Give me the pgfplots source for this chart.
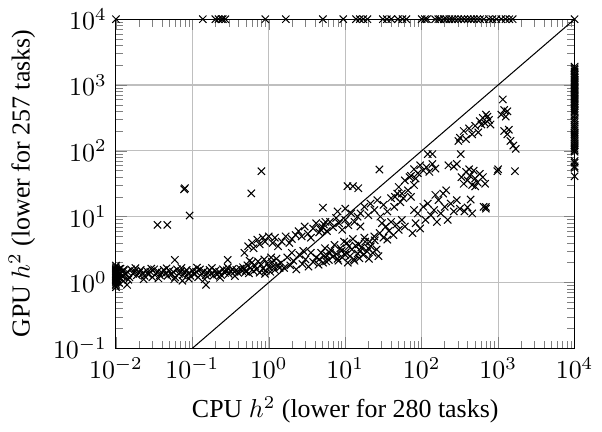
\documentclass[border=0pt]{standalone}
\usepackage{fontspec}
\setmainfont{Liberation Serif}
\usepackage{pgfplots}
\pgfplotsset{compat=1.18}

\begin{document}
\begin{tikzpicture}
\begin{axis}[
    scale only axis,
    width=177pt, height=127pt,
    xmode=log, ymode=log,
    xmin=1e-2, xmax=1e4,
    ymin=1e-1, ymax=1e4,
    grid=major,
    clip=false,
    xlabel={CPU $h^2$ (lower for 280 tasks)},
    ylabel={GPU $h^2$ (lower for 257 tasks)},
    pts/.style={only marks, mark=x, black, mark size=2pt},
]
% diagonal y = x
\addplot[black, no marks, line width=0.4pt] coordinates {(0.1,0.1) (10000,10000)};

% timeouts on the top edge
\addplot[pts] coordinates {
(0.01,10000) (0.137,10000) (0.2,10000) (0.22,10000) (0.24,10000) (0.25,10000) (0.27,10000)
(0.9,10000) (1.67,10000) (5.1,10000) (9.4,10000) (13.8,10000) (15.5,10000) (17.2,10000)
(19.5,10000) (31,10000) (35,10000) (40,10000) (49,10000) (56,10000) (63,10000) (100,10000)
(110,10000) (117,10000) (150,10000) (165,10000) (174,10000) (195,10000) (210,10000)
(230,10000) (250,10000) (270,10000) (300,10000) (330,10000) (360,10000) (400,10000)
(440,10000) (480,10000) (530,10000) (580,10000) (650,10000) (760,10000) (840,10000)
(950,10000) (1100,10000) (1250,10000) (1400,10000) (1550,10000) (10000,10000)
};

% timeouts on the right edge
\addplot[pts] coordinates {
(10000,1900) (10000,1800) (10000,1700) (10000,1600) (10000,1500) (10000,1420) (10000,1350)
(10000,1280) (10000,1200) (10000,1150) (10000,1100) (10000,1050) (10000,1000) (10000,950)
(10000,900) (10000,860) (10000,820) (10000,780) (10000,740) (10000,700) (10000,660)
(10000,630) (10000,600) (10000,570) (10000,540) (10000,510) (10000,480) (10000,450)
(10000,420) (10000,400) (10000,380) (10000,350) (10000,310) (10000,290) (10000,270)
(10000,250) (10000,235) (10000,220) (10000,205) (10000,190) (10000,180) (10000,170)
(10000,160) (10000,150) (10000,140) (10000,130) (10000,122) (10000,115) (10000,108)
(10000,102) (10000,97) (10000,70) (10000,66) (10000,58) (10000,55) (10000,41)
};

% left edge stack
\addplot[pts] coordinates {
(0.01,0.85) (0.01,0.9) (0.01,0.95) (0.01,1.0) (0.01,1.04) (0.01,1.08) (0.01,1.12)
(0.01,1.16) (0.01,1.2) (0.01,1.24) (0.01,1.28) (0.01,1.32) (0.01,1.36) (0.01,1.4)
(0.01,1.45) (0.01,1.5) (0.01,1.56) (0.01,1.62) (0.01,1.7) (0.01,1.8)
(0.0105,1.1) (0.0105,1.3) (0.0105,1.5) (0.0105,1.22) (0.0105,1.42)
(0.011,1.18) (0.011,1.35) (0.011,0.98) (0.011,1.6)
(0.0125,1.25) (0.0125,1.55) (0.0125,1.05)
};

% flat band for small CPU values
\addplot[pts] coordinates {
(0.0112,1.38) (0.0119,1.26) (0.0126,1.51) (0.0133,1.32) (0.0141,1.45) (0.0150,1.20)
(0.0158,1.58) (0.0168,1.35) (0.0178,1.48) (0.0188,1.29) (0.0200,1.41) (0.0211,1.55)
(0.0224,1.38) (0.0237,1.26) (0.0251,1.51) (0.0266,1.32) (0.0282,1.45) (0.0299,1.20)
(0.0316,1.58) (0.0335,1.35) (0.0355,1.48) (0.0376,1.29) (0.0398,1.41) (0.0422,1.55)
(0.0447,1.38) (0.0473,1.26) (0.0501,1.51) (0.0531,1.32) (0.0562,1.45) (0.0596,1.20)
(0.0631,1.58) (0.0668,1.35) (0.0708,1.48) (0.0750,1.29) (0.0794,1.41) (0.0841,1.55)
(0.0891,1.38) (0.0944,1.26) (0.100,1.51) (0.106,1.32) (0.112,1.45) (0.119,1.20)
(0.126,1.58) (0.133,1.35) (0.141,1.48) (0.150,1.29) (0.158,1.41) (0.168,1.55)
(0.178,1.38) (0.188,1.26) (0.200,1.51) (0.211,1.32) (0.224,1.45) (0.237,1.30)
(0.251,1.58) (0.266,1.40) (0.282,1.52) (0.299,1.35) (0.316,1.48) (0.335,1.60)
(0.355,1.45) (0.376,1.55) (0.398,1.40) (0.422,1.62) (0.447,1.50) (0.473,1.58) (0.501,1.45)
(0.0115,1.62) (0.0145,1.10) (0.018,1.65) (0.023,1.12) (0.029,1.62) (0.036,1.15)
(0.046,1.64) (0.058,1.12) (0.072,1.66) (0.09,1.14) (0.115,1.68) (0.145,1.12)
(0.18,1.66) (0.23,1.18) (0.29,1.68) (0.36,1.25) (0.46,1.70)
(0.014,0.92) (0.074,1.06) (0.151,0.92) (0.059,2.2) (0.29,2.2)
};

% outliers above the band
\addplot[pts] coordinates {
(0.035,7.5) (0.047,7.5) (0.078,26) (0.08,27) (0.092,10.4) (0.59,22.6) (0.8,49)
(5.1,13.7) (28,52) (10.7,29) (12.6,29) (14.8,27) (1660,49) (690,14)
};

% CPU around 1
\addplot[pts] coordinates {
(0.48,2.82) (0.537,3.55) (0.603,3.98) (0.631,3.31) (0.708,4.47) (0.759,3.80)
(0.832,4.79) (0.891,4.17) (1.0,5.01) (1.12,3.98) (1.20,4.79) (1.32,3.55) (1.48,4.17)
(1.66,5.01) (1.86,3.98) (2.0,4.57)
(0.501,1.51) (0.525,1.82) (0.550,1.38) (0.575,1.66) (0.603,2.0) (0.631,1.48)
(0.661,1.78) (0.692,1.58) (0.724,2.09) (0.759,1.41) (0.794,1.86) (0.832,1.62)
(0.871,2.24) (0.912,1.51) (0.955,1.91) (1.0,1.70) (1.047,1.45) (1.096,2.04)
(1.148,1.78) (1.202,1.55) (1.259,2.29) (1.318,1.86) (1.380,1.66) (0.562,2.14)
(0.891,1.35) (1.072,2.40)
(1.45,2.0) (1.58,1.66) (1.74,2.40) (1.91,1.82) (2.09,2.14) (2.29,1.58) (2.51,2.63)
(2.75,1.91) (3.02,2.24) (3.31,1.74) (3.55,2.82) (3.80,2.04) (4.17,2.40) (4.47,1.86)
(2.0,2.82) (2.82,3.02)
(2.45,6.03) (2.69,5.01) (2.95,7.08) (3.24,5.50) (3.55,4.79) (3.80,6.61) (4.17,7.94)
(4.57,5.75) (5.01,6.92) (5.50,8.32) (2.24,5.25)
};

% CPU between 4 and 30
\addplot[pts] coordinates {
(4.57,2.24) (4.84,2.82) (5.13,2.0) (5.43,3.31) (5.75,2.57) (6.10,2.19) (6.46,3.09)
(6.84,2.45) (7.24,3.72) (7.67,2.69) (8.13,2.14) (8.61,3.31) (9.12,2.40) (9.66,4.17)
(10.2,2.88) (10.8,2.0) (11.5,2.51) (12.2,3.16) (12.9,2.24) (13.6,3.63) (14.5,2.75)
(15.3,2.34) (16.2,3.39) (17.2,2.63) (18.2,4.17) (19.3,2.95) (20.4,2.29) (21.6,3.55)
(22.9,2.82) (24.3,4.37) (25.7,3.16) (27.2,2.51)
(5.25,2.51) (6.31,2.82) (7.94,2.29) (10,2.63) (11.2,3.55) (13.2,2.14) (15.8,3.02)
(20,3.31) (8.91,3.02) (5.62,2.09)
(4.79,6.31) (5.25,7.59) (5.75,6.03) (6.31,8.32) (6.92,6.92) (7.59,9.55) (8.32,7.94)
(9.12,6.31) (10,8.91) (11.0,7.41) (12.0,11.2) (13.2,8.32) (14.5,10) (15.8,7.08)
(7.94,12.0) (10,13.2)
(15.8,11.2) (17.8,14.1) (20,10.5) (21.4,15.8) (24,12.6) (26.3,17.8) (28.8,10)
(31.6,15.1) (35.5,12.0) (39.8,19.1) (43.7,14.1) (47.9,22.4) (52.5,16.6)
(10.5,3.98) (12.6,4.57) (15.1,3.80) (17.8,4.79) (20.9,4.17) (24,5.01) (28.2,5.62)
(31.6,4.79) (33.9,7.08) (37.2,6.03) (39.8,8.32) (42.7,5.25) (46.8,7.59) (50.1,6.31)
(55,8.91) (60.3,7.08) (35.5,4.47) (30.2,7.94)
};

% CPU between 40 and 2000
\addplot[pts] coordinates {
(44.7,20) (50.1,28.2) (55,22.4) (60.3,35.5) (66.1,25.1) (72.4,20) (79.4,30.2)
(69.2,39.8) (57.5,19.1)
(72.4,41.7) (79.4,52.5) (89.1,45.7) (95.5,60.3) (105,50.1) (115,56.2) (126,47.9)
(138,63.1) (151,53.7) (120,89.1) (138,89.1) (83.2,38.0)
(224,60.3) (263,57.5) (288,63.1) (324,89.1)
(75.9,5.62) (83.2,7.94) (89.1,11.2) (95.5,6.61) (105,14.1) (112,8.91) (120,15.8)
(132,10.5) (145,12.6) (158,8.32) (166,17.8) (79.4,12.6)
(178,11.2) (200,14.1) (219,8.91) (240,15.8) (263,12.0) (288,17.8) (316,13.2)
(191,22.4) (209,25.1) (151,21.4)
(363,12.0) (398,13.8) (457,11.2) (437,18.2) (646,14.1) (692,13.2)
(331,39.8) (355,31.6) (380,47.9) (398,35.5) (427,41.7) (457,30.2) (479,50.1)
(501,38.0) (537,33.1) (575,44.7) (631,39.8) (676,31.6) (417,52.5) (501,28.8)
(977,49) (1000,52.5)
(316,158) (355,200) (380,151) (417,219) (457,178) (501,240) (550,191) (302,141)
(575,282) (631,316) (676,263) (724,331) (759,295) (794,251) (692,355) (603,251)
(1100,355) (1200,417) (1260,331) (1150,603) (1320,398)
(1200,200) (1320,178) (1450,141) (1580,120) (1700,107) (1380,209)
};
\end{axis}
\end{tikzpicture}
\end{document}
